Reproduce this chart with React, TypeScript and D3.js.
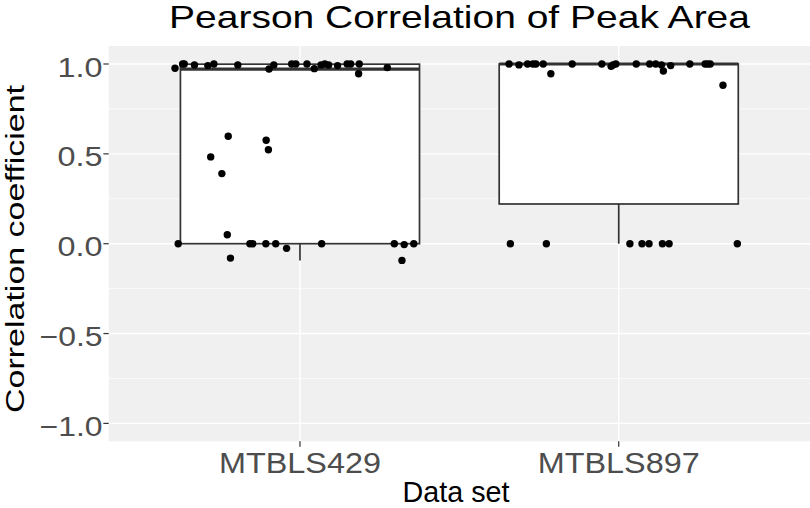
import React from "react";
import * as d3 from "d3";

const categories = ["MTBLS429", "MTBLS897"];

// jitter offsets (category units) and correlation values per data set
const jitter429 = [-0.392, -0.368, -0.363, -0.331, -0.289, -0.27, -0.195, -0.097, -0.082, -0.026, -0.013, 0.022, 0.045, 0.066, 0.078, 0.09, 0.118, 0.148, 0.159, 0.186, 0.184, 0.274, -0.225, -0.28, -0.245, -0.106, -0.099, -0.228, -0.218, -0.382, -0.157, -0.148, -0.107, -0.076, -0.042, 0.068, 0.296, 0.327, 0.357, 0.32];
const values429 = [0.976, 1.0, 1.0, 0.995, 0.991, 1.0, 0.995, 0.972, 0.995, 1.0, 1.0, 1.0, 0.974, 0.995, 1.0, 0.995, 0.991, 1.0, 1.0, 1.0, 0.946, 0.98, 0.598, 0.483, 0.39, 0.576, 0.523, 0.05, -0.08, 0, 0, 0, 0, 0, -0.026, 0, 0, -0.005, 0, -0.093];

const jitter897 = [-0.344, -0.313, -0.286, -0.269, -0.26, -0.237, -0.213, -0.146, -0.053, -0.024, -0.018, -0.009, 0.055, 0.097, 0.116, 0.134, 0.14, 0.163, 0.223, 0.271, 0.279, 0.287, 0.327, -0.34, -0.227, 0.035, 0.073, 0.095, 0.137, 0.158, 0.372];
const values897 = [1.0, 0.995, 1.0, 1.0, 1.0, 1.0, 0.946, 1.0, 1.0, 0.987, 0.995, 1.0, 1.0, 1.0, 1.0, 0.995, 0.961, 0.991, 1.0, 1.0, 1.0, 1.0, 0.882, 0, 0, 0, 0, 0, 0, 0, 0];

// box statistics per data set
const boxLower = [-0.093, 0];
const boxQ1 = [0, 0.221];
const boxMedian = [0.971, 1.0];
const boxQ3 = [0.999, 1.0];
const boxUpper = [1.0, 1.0];

const yTicks = [-1, -0.5, 0, 0.5, 1];
const yMinor = [-0.75, -0.25, 0.25, 0.75];
const yTickLabels = ["\u22121.0", "\u22120.5", "0.0", "0.5", "1.0"];

const titleText = "Pearson Correlation of Peak Area";
const xTitle = "Data set";
const yTitle = "Correlation coefficient";

const W = 810;
const H = 508;
const FONT = "'Liberation Sans', Arial, Helvetica, sans-serif";

export default function App() {
  const x = d3.scaleLinear().domain([0.4, 2.6]).range([108.7, 810]);
  const y = d3.scaleLinear().domain([-1, 1]).range([423.4, 64]);
  const panelTop = y(1.1);
  const panelBottom = y(-1.1);
  const panelLeft = x(0.4);
  const panelRight = x(2.6);

  const groups = [
    { jit: jitter429, vals: values429 },
    { jit: jitter897, vals: values897 },
  ];
  const boxW = 0.75;
  const dark = "#333333";

  return (
    <svg width={W} height={H} style={{ position: "absolute", left: 0, top: 0, background: "#fff" }}>
      <rect x={panelLeft} y={panelTop} width={panelRight - panelLeft} height={panelBottom - panelTop} fill="#F0F0F0" />
      {yMinor.map((v) => (
        <line key={"mn" + v} x1={panelLeft} x2={panelRight} y1={y(v)} y2={y(v)} stroke="#fff" strokeWidth={0.7} />
      ))}
      {yTicks.map((v) => (
        <line key={"mj" + v} x1={panelLeft} x2={panelRight} y1={y(v)} y2={y(v)} stroke="#fff" strokeWidth={1.4} />
      ))}
      {categories.map((c, i) => (
        <line key={"vx" + c} x1={x(i + 1)} x2={x(i + 1)} y1={panelTop} y2={panelBottom} stroke="#fff" strokeWidth={1.4} />
      ))}

      {categories.map((c, i) => {
        const cx = x(i + 1);
        const l = x(i + 1 - boxW / 2);
        const r = x(i + 1 + boxW / 2);
        return (
          <g key={"box" + c}>
            <line x1={cx} x2={cx} y1={y(boxQ1[i])} y2={y(boxLower[i])} stroke={dark} strokeWidth={1.7} />
            <line x1={cx} x2={cx} y1={y(boxQ3[i])} y2={y(boxUpper[i])} stroke={dark} strokeWidth={1.7} />
            <rect x={l} y={y(boxQ3[i])} width={r - l} height={y(boxQ1[i]) - y(boxQ3[i])} fill="#fff" stroke={dark} strokeWidth={1.7} />
            <line x1={l} x2={r} y1={y(boxMedian[i])} y2={y(boxMedian[i])} stroke={dark} strokeWidth={3.2} />
          </g>
        );
      })}

      {groups.map((g, i) =>
        g.vals.map((v, j) => (
          <circle key={"p" + i + "-" + j} cx={x(i + 1 + g.jit[j])} cy={y(v)} r={3.7} fill="#000" />
        ))
      )}

      {yTicks.map((v, k) => (
        <g key={"yt" + v}>
          <line x1={panelLeft - 5.3} x2={panelLeft} y1={y(v)} y2={y(v)} stroke={dark} strokeWidth={1.2} />
          <text
            x={102.5}
            y={y(v) + 12.6}
            textAnchor="end"
            fontFamily={FONT}
            fontSize={28}
            fill="#4D4D4D"
            textLength={v < 0 ? 63 : 45}
            lengthAdjust="spacingAndGlyphs"
          >
            {yTickLabels[k]}
          </text>
        </g>
      ))}
      {categories.map((c, i) => (
        <g key={"xt" + c}>
          <line x1={x(i + 1)} x2={x(i + 1)} y1={panelBottom} y2={panelBottom + 5.3} stroke={dark} strokeWidth={1.2} />
          <text
            x={x(i + 1)}
            y={472.7}
            textAnchor="middle"
            fontFamily={FONT}
            fontSize={29}
            fill="#4D4D4D"
            textLength={162}
            lengthAdjust="spacingAndGlyphs"
          >
            {c}
          </text>
        </g>
      ))}

      <text x={459.5} y={28} textAnchor="middle" fontFamily={FONT} fontSize={32} fill="#000" textLength={581} lengthAdjust="spacingAndGlyphs">
        {titleText}
      </text>
      <text x={456} y={501.5} textAnchor="middle" fontFamily={FONT} fontSize={29.5} fill="#000" textLength={107} lengthAdjust="spacingAndGlyphs">
        {xTitle}
      </text>
      <text
        transform="translate(23.5,249) rotate(-90)"
        textAnchor="middle"
        fontFamily={FONT}
        fontSize={26}
        fill="#000"
        textLength={328}
        lengthAdjust="spacingAndGlyphs"
      >
        {yTitle}
      </text>
    </svg>
  );
}
